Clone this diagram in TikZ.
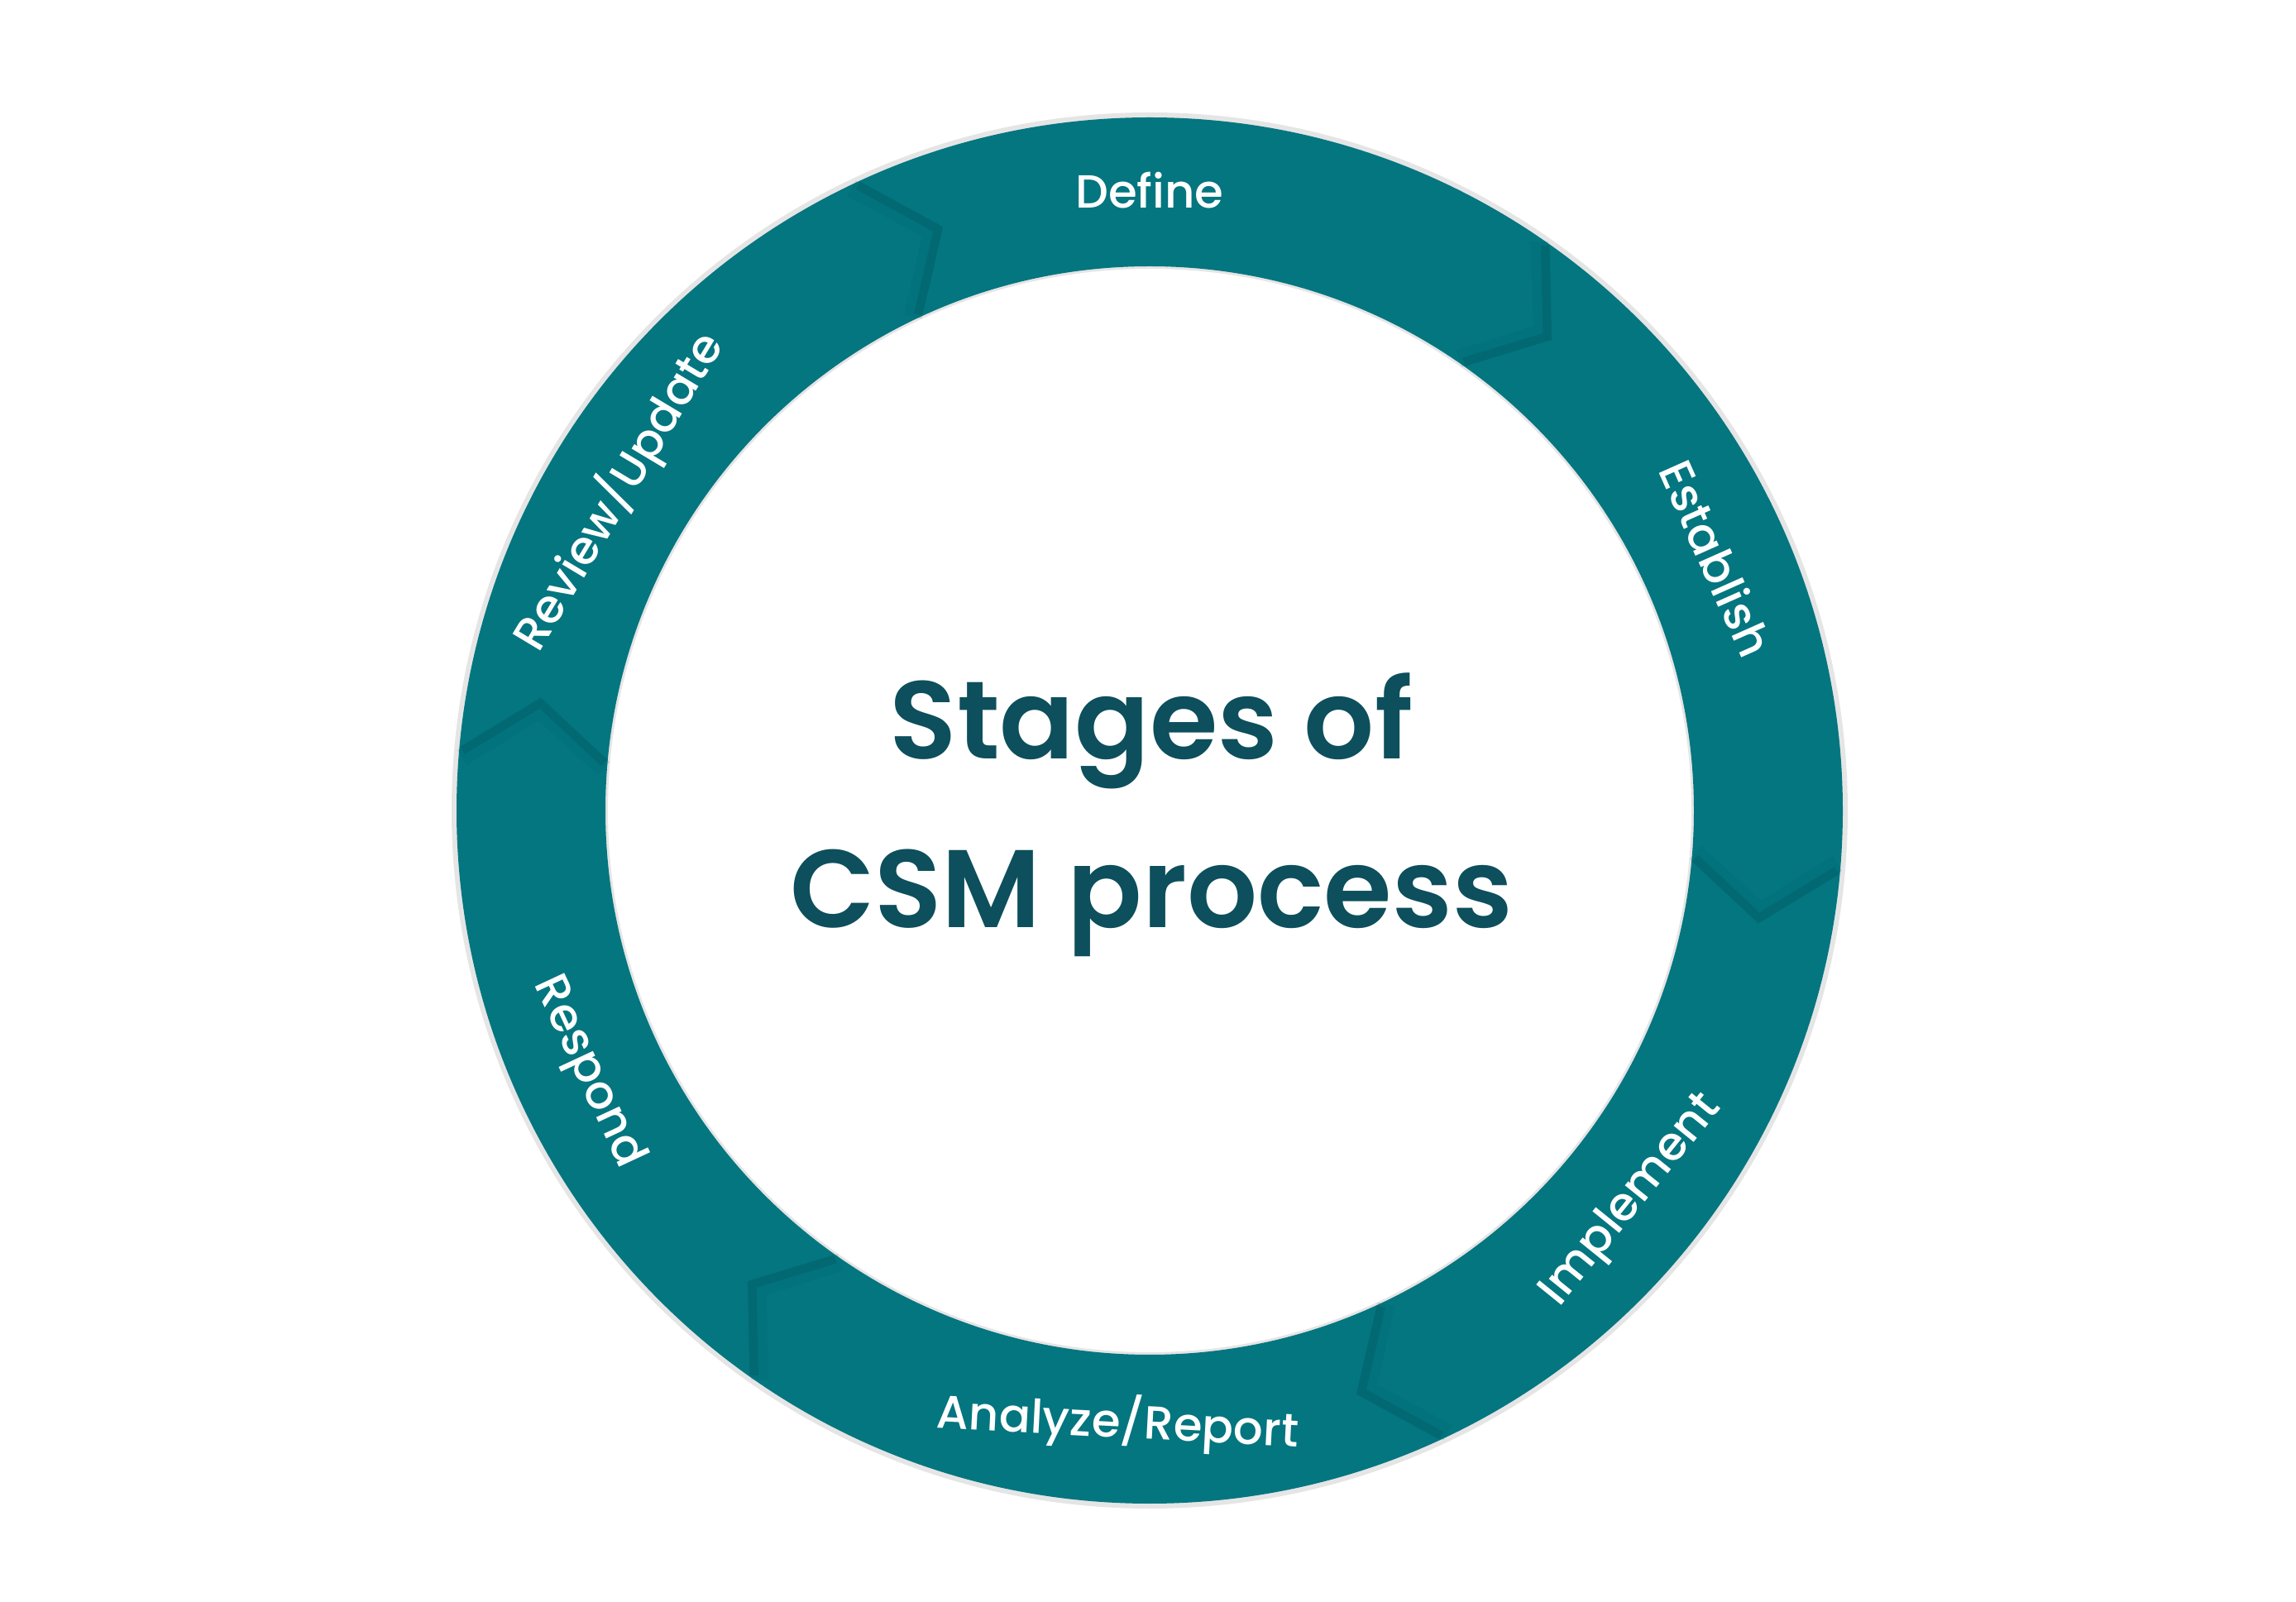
\documentclass[tikz,border=0pt]{standalone}
\usepackage{fontspec}
\setmainfont{Poppins}[BoldFont={* SemiBold}]
\newfontfamily\medfont{Poppins Medium}
\begin{document}
\begin{tikzpicture}
\definecolor{ring}{HTML}{037680}
\definecolor{ringdark}{HTML}{02606A}
\definecolor{title}{HTML}{0D4F5C}
\useasboundingbox (0,0) rectangle (27.76,19.36);
\coordinate (c) at (13.90,9.56);
\tikzset{lbl/.style={text=white,font=\medfont\fontsize{16}{19}\selectfont},
  chev/.style={draw=ringdark,line width=3pt,opacity=0.5,line join=miter}}
\fill[gray!40,opacity=0.5,even odd rule] (c) circle (8.44) (c) circle (6.55);
\fill[ring,even odd rule] (c) circle (8.38) (c) circle (6.58);
\foreach \a in {55,-5,-65,-125,175,115}{
  \draw[chev] ([shift={(\a:8.34)}]c) -- ([shift={(\a-5:7.48)}]c) -- ([shift={(\a:6.62)}]c);
  \draw[ringdark,line width=6pt,opacity=0.15] ([shift={(\a+0.6:8.34)}]c) -- ([shift={(\a-4.4:7.48)}]c) -- ([shift={(\a+0.6:6.62)}]c);
}
\node[lbl] (d) at ([shift={(90:7.5)}]c) {Define};
\node[lbl,rotate=-66] (e) at ([shift={(24:7.5)}]c) {Establish};
\node[lbl,rotate=51] (i) at ([shift={(-39:7.5)}]c) {Implement};
\node[lbl,rotate=-3] (ar) at ([shift={(-93:7.4)}]c) {Analyze/Report};
\node[lbl,rotate=-65] (r) at ([shift={(205:7.5)}]c) {Respond};
\node[lbl,rotate=59] (ru) at ([shift={(149:7.5)}]c) {Review/Update};
\node[text=title,font=\bfseries\fontsize{38}{58}\selectfont,align=center] (t) at ([shift={(0.02,-0.05)}]c) {Stages of\\CSM process};
\end{tikzpicture}
\end{document}
